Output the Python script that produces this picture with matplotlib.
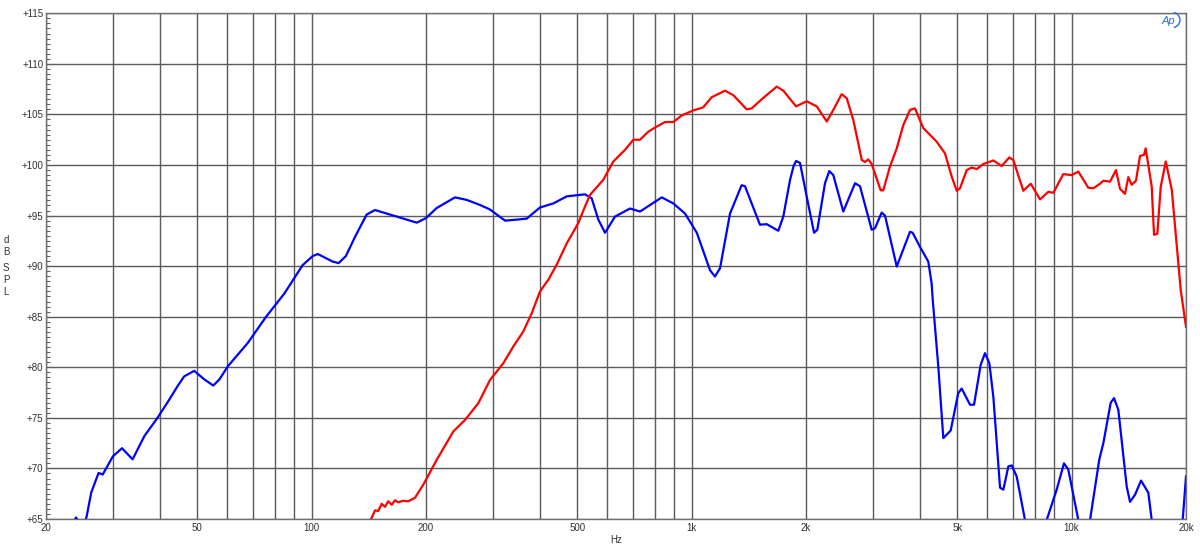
import matplotlib
matplotlib.use("Agg")
import matplotlib.pyplot as plt
from matplotlib.patches import Arc
import numpy as np

# ---------------- data ----------------
blue_freq = [23.5, 24.0, 24.6, 25.3, 25.6, 26.3, 27.5, 28.2, 30.0, 31.7, 33.8, 36.3, 39.3, 42.2,
             44.5, 46.2, 49.1, 52.2, 55.1, 57.2, 60.2, 67.9, 75.9, 84.8, 94.7, 100.7, 103.8, 113.6,
             117.8, 123.1, 130.1, 139.6, 146.8, 164.1, 189.1, 200, 213.4, 238.4, 256, 277.4,
             294.8, 322.8, 346.6, 368.2, 399, 432.6, 469.2, 524.2, 545.8, 568.2, 591.8, 628.6,
             688.6, 731.6, 834.6, 895, 961, 1032, 1118, 1152, 1188, 1262, 1354, 1382, 1513,
             1576, 1691, 1743, 1815, 1855, 1883, 1929, 2008, 2100, 2142, 2244, 2303, 2360, 2507,
             2692, 2774, 2978, 3038, 3164, 3228, 3466, 3756, 3817, 3991, 4196, 4282, 4310,
             4396, 4458, 4596, 4806, 5032, 5137, 5403, 5536, 5764, 5917, 6074, 6223, 6481,
             6612, 6816, 6956, 7170, 7540, 8000, 8598, 9134, 9548, 9800, 10416, 10800, 11182,
             11828, 12120, 12674, 12932, 13272, 13964, 14246, 14686, 15230, 15918, 16248,
             18000, 19604, 20000]
blue_db = [64.6, 65.15, 64.5, 64.6, 65.3, 67.6, 69.55, 69.4, 71.2, 72.0, 70.9, 73.2, 75.0, 76.8,
           78.2, 79.1, 79.65, 78.8, 78.2, 78.8, 80.1, 82.4, 85.0, 87.3, 90.1, 91.0, 91.2, 90.45,
           90.3, 91.0, 92.9, 95.1, 95.55, 95.0, 94.3, 94.75, 95.75, 96.8, 96.55, 96.05,
           95.6, 94.5, 94.6, 94.7, 95.8, 96.2, 96.9, 97.1, 96.7, 94.6, 93.3, 94.9,
           95.7, 95.4, 96.8, 96.2, 95.2, 93.3, 89.6, 88.97, 89.8, 95.2, 98.0, 97.9, 94.1,
           94.15, 93.5, 94.9, 98.5, 99.9, 100.4, 100.2, 96.9, 93.3, 93.6, 98.2, 99.4, 99.0, 95.4,
           98.2, 97.9, 93.6, 93.75, 95.3, 95.0, 89.96, 93.4, 93.3, 91.9, 90.45, 88.3, 86.7,
           82.9, 80.1, 73.0, 73.75, 77.45, 77.9, 76.3, 76.3, 80.25, 81.4, 80.4, 77.1, 68.1,
           67.9, 70.2, 70.3, 69.2, 64.9, 62.0, 64.9, 67.9, 70.5, 69.9, 64.9, 63.0, 64.9,
           70.9, 72.5, 76.5, 76.95, 75.8, 68.2, 66.7, 67.4, 68.8, 67.6, 64.9,
           62.0, 64.9, 69.2]

red_freq = [140, 143.9, 146.8, 149.8, 152.9, 156.0, 159.1, 162.4, 165.7, 169, 174, 179.6,
            187.1, 196.8, 213.4, 236, 253.4, 274.6, 294.8, 319.5, 339.4, 360.7, 379.6, 399,
            419.6, 441.6, 469.2, 503.2, 524.2, 540.4, 585.8, 622.2, 668, 702.6, 731.6, 769.2,
            809.4, 851, 895, 941.8, 1010, 1073, 1129, 1224, 1288, 1396, 1439, 1529, 1675,
            1743, 1883, 2008, 2134, 2268, 2360, 2482, 2560, 2664, 2804, 2860, 2916, 2978,
            3060, 3144, 3194, 3327, 3466, 3607, 3756, 3871, 4070, 4196, 4416, 4643, 4836,
            4986, 5086, 5296, 5460, 5628, 5857, 6223, 6546, 6855, 7022, 7464, 7806, 8258,
            8684, 8951, 9508, 10004, 10416, 11066, 11406, 11878, 12120, 12619, 13087, 13408,
            13820, 14100, 14391, 14772, 15133, 15506, 15664, 16248, 16478, 16812, 17161,
            17692, 18348, 19370, 20000]
red_db = [64.5, 65.1, 65.85, 65.8, 66.5, 66.2, 66.75, 66.4, 66.85, 66.65, 66.8, 66.75,
          67.1, 68.4, 70.85, 73.65, 74.8, 76.45, 78.75, 80.4, 82.05, 83.55, 85.35, 87.5,
          88.65, 90.15, 92.25, 94.25, 95.9, 97.05, 98.55, 100.35, 101.5, 102.5, 102.5, 103.3,
          103.8, 104.25, 104.25, 104.9, 105.4, 105.7, 106.7, 107.35, 106.9, 105.5, 105.6, 106.5, 107.75,
          107.35, 105.8, 106.3, 105.8, 104.3, 105.45, 107.0, 106.6, 104.45, 100.5, 100.3, 100.55, 100.1,
          98.8, 97.5, 97.5, 99.85, 101.65, 103.95, 105.45, 105.6, 103.65, 103.15, 102.3, 101.15, 98.85,
          97.45, 97.7, 99.5, 99.75, 99.6, 100.1, 100.45, 99.9, 100.75, 100.5, 97.45, 98.15, 96.6,
          97.35, 97.25, 99.1, 99.0, 99.35, 97.75, 97.7, 98.15, 98.45, 98.35, 99.5, 97.65,
          97.15, 98.8, 98.05, 98.45, 100.9, 101.0, 101.65, 97.85, 93.1, 93.2, 97.85,
          100.35, 97.55, 87.65, 84.0]

x_major = [20, 50, 100, 200, 500, 1000, 2000, 5000, 10000, 20000]
x_major_labels = ["20", "50", "100", "200", "500", "1k", "2k", "5k", "10k", "20k"]
x_grid = [30, 40, 60, 70, 80, 90, 300, 400, 600, 700, 800, 900,
          3000, 4000, 6000, 7000, 8000, 9000]
y_major = [65, 70, 75, 80, 85, 90, 95, 100, 105, 110, 115]

# ---------------- figure ----------------
plt.rcParams['font.family'] = ['Liberation Sans', 'DejaVu Sans']
fig = plt.figure(figsize=(12, 5.6), dpi=100)
ax = fig.add_axes([46 / 1200, 1 - 519 / 560, 1140 / 1200, (519 - 13.3) / 560])

ax.set_xscale('log')
ax.set_xlim(20, 20000)
ax.set_ylim(65, 115)

grid_col = '#5a5a5a'
ax.set_xticks(x_major)
ax.set_xticklabels(x_major_labels)
ax.set_xticks(x_grid, minor=True)
ax.set_xticklabels([], minor=True)
ax.set_yticks(y_major)
ax.set_yticklabels(["+%d" % v for v in y_major])
ax.set_yticks(np.arange(65, 115.01, 0.5), minor=True)

ax.grid(True, which='major', axis='both', color=grid_col, linewidth=1.0)
ax.grid(True, which='minor', axis='x', color=grid_col, linewidth=1.0)
ax.set_axisbelow(True)

ax.tick_params(axis='x', which='both', length=0, pad=3, labelsize=7, labelcolor='#303030')
ax.tick_params(axis='y', which='major', length=0, pad=2, labelsize=7, labelcolor='#303030')
ax.tick_params(axis='y', which='minor', direction='in', length=3, width=0.8,
               color='#606060', left=True, right=False)

for s in ax.spines.values():
    s.set_color('#707070')
    s.set_linewidth(1.0)

ax.plot(blue_freq, blue_db, color='#0000FF', linewidth=1.6, solid_joinstyle='round')
ax.plot(red_freq, red_db, color='#FF0000', linewidth=1.6, solid_joinstyle='round')

# axis labels
fig.text(616 / 1200, 1 - 540 / 560, "Hz", ha='center', va='center', fontsize=7, color='#303030')
for ch, yp in zip(["d", "B", "S", "P", "L"], [240, 252, 268, 280, 292]):
    fig.text(6 / 1200, 1 - yp / 560, ch, ha='center', va='center', fontsize=7, color='#303030')

# Ap logo
fig.text(1168 / 1200, 1 - 21 / 560, "Ap", ha='center', va='center', fontsize=8,
         style='italic', color='#2a6fd6')
fig.patches.append(Arc((1171 / 1200, 1 - 20 / 560), 18 / 1200, 16 / 560, theta1=-80, theta2=80,
                       transform=fig.transFigure, color='#2a6fd6', linewidth=1.0))

fig.savefig("out.png", dpi=100, facecolor='white')
